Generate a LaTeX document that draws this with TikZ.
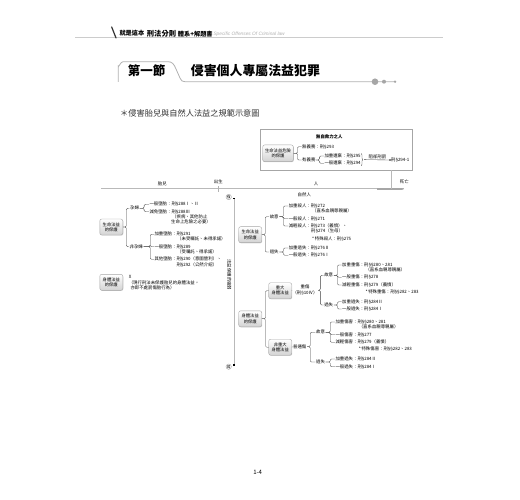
\documentclass[tikz,border=0pt]{standalone}
\usepackage{fontspec}
\setmainfont{Noto Sans CJK TC}
\newfontfamily\latfont{Liberation Sans}
\newcommand\lawsec{{\latfont §}}
\usetikzlibrary{arrows.meta,decorations.pathreplacing,shadows,calc}

\begin{document}
\begin{tikzpicture}[x=1pt, y=-1pt,
    prot/.style={draw=gray!70, rounded corners=2pt, top color=white, bottom color=gray!35, drop shadow={shadow xshift=0.5pt, shadow yshift=-0.6pt, fill=gray!60}, align=center, inner sep=0pt, minimum width=23pt, minimum height=16pt, font=\fontsize{4.3}{5.3}\selectfont},
    law/.style={anchor=west, inner sep=0.3pt, font=\fontsize{4.4}{5}\selectfont},
    tag/.style={inner sep=0.5pt, font=\fontsize{4.4}{5}\selectfont},
    branch/.style={draw=black!75, line width=0.35pt, rounded corners=1.2pt},
    timeline/.style={draw=gray!55, line width=1pt},
]
\useasboundingbox[fill=white] (0,0) rectangle (520,500);

% Header
\draw[gray!40, line width=0.4pt] (75,37.5) -- (443,37.5);
\draw[black!80, line width=1.2pt, line cap=round] (111.7,27) -- (116,38);
\node[anchor=west, inner sep=0, font=\bfseries\fontsize{6.2}{7}\selectfont] (hdra) at (119.3,33.5) {就是這本};
\node[anchor=west, inner sep=0, font=\bfseries\fontsize{7.3}{8}\selectfont] (hdrb) at (146.7,33.3) {刑法分則};
\node[anchor=west, inner sep=0, font=\bfseries\fontsize{6.2}{7}\selectfont] (hdrc) at (177.7,33.8) {體系+解題書};
\node[anchor=west, inner sep=0, text=gray!60, font=\latfont\itshape\fontsize{4.8}{5}\selectfont] (hdrd) at (213.3,34) {Specific Offenses Of Criminal law};

% Section title
\draw[gray!60, line width=0.8pt] (118.3,82) -- (118.3,66) to[out=-90,in=180] (123,61.7) -- (168,61.7)
    .. controls (172,61.7) and (174,64) .. (176,69) -- (180,78) .. controls (181.5,81) .. (185,81.7) -- (395,81.7);
\fill[gray!70] (375,81.7) circle (3.3) (384,81.7) circle (2) (395,81.7) circle (1.3);
\node[font=\bfseries\fontsize{12.5}{13}\selectfont] (sec) at (146.7,71) {第一節};
\node[anchor=west, inner sep=0, font=\bfseries\fontsize{12.9}{14}\selectfont] (ttl) at (190.7,71) {侵害個人專屬法益犯罪};

\node[anchor=west, inner sep=0, text=black!80, font=\fontsize{8.2}{9}\selectfont] (sub) at (120,113.3) {＊侵害胎兒與自然人法益之規範示意圖};

% Helpless persons box
\node[draw=gray!70, line width=0.5pt, minimum width=152.7pt, minimum height=40.7pt, inner sep=0] (helpless) at (336.3,149.7) {};
\node[font=\bfseries\fontsize{4.4}{5}\selectfont] (hlt) at (329.3,136.7) {無自救力之人};
\node[prot, minimum width=30.6pt, minimum height=16.7pt] (danger) at (278,153.3) {生命法益危險\\的保護};
\node[law] (noduty) at (301.7,146.7) {無義務：刑\lawsec293};
\node[law] (duty) at (301.7,160) {有義務};
\node[law] (aba) at (324,156) {加重遺棄：刑\lawsec295};
\node[law] (abb) at (324,163.3) {一般遺棄：刑\lawsec294};
\node[law] (exempt) at (390.7,160) {刑\lawsec294-1};
\draw[branch] (danger.east) -- ++(4,0) |- (noduty.west);
\draw[branch] (danger.east) -- ++(4,0) |- (duty.west);
\draw[branch] (duty.east) -- ++(3.5,0) |- (aba.west);
\draw[branch] (duty.east) -- ++(3.5,0) |- (abb.west);
\draw[black!75, line width=0.35pt, decorate, decoration={brace, amplitude=1.5pt}] (aba.north east) -- (abb.south east);
\draw[branch, -{Square[length=1.4pt]}] ($(aba.north east)!0.5!(abb.south east)+(3,0)$) -- node[above=0.2pt, tag] (bar) {阻卻刑罰} (exempt.west);

% Time line
\coordinate (tstart) at (101,189);
\coordinate (tend) at (404.3,189);
\coordinate (dtick) at (391,189);
\draw[timeline] (tstart) -- (tend);
\draw[gray!70, line width=2pt, -{Latex[length=2.5pt]}] (376.7,189) -- (tend);
\draw[timeline] (helpless.south -| dtick) -- (dtick);
\draw[gray!60, line width=0.6pt] (218,186.5) -- (218,192);
\node[tag] (fetus) at (162.3,183.7) {胎兒};
\node[tag] (birth) at (218.3,182) {出生};
\node[tag] (person) at (316,183.7) {人};
\node[tag] (death) at (404.3,182) {死亡};

% Vertical axis
\coordinate (vtop) at (234,198.3);
\coordinate (vbot) at (234,365);
\draw[timeline] (vtop) -- (vbot);
\node[fill=black, inner sep=0.6pt] (vtopm) at (vtop) {};
\node[fill=black, inner sep=0.6pt] (vbotm) at (vbot) {};
\node[draw=gray!70, circle, inner sep=0.2pt, font=\fontsize{3.6}{4}\selectfont] (strong) at (228.7,197) {強};
\node[draw=gray!70, circle, inner sep=0.2pt, font=\fontsize{3.6}{4}\selectfont] (weak) at (228.7,366.7) {弱};
\node[tag, rotate=-90] (vlab) at (229.3,275) {法益保護的強弱};

% Fetus: life
\node[prot] (flife) at (111.3,227) {生命法益\\的保護};
\node[tag] (preg) at (134.5,208.3) {孕婦};
\node[tag] (npreg) at (136.2,246.7) {非孕婦};
\node[law] (fa) at (149,204.3) {一般墮胎：刑\lawsec288Ⅰ、Ⅱ};
\node[law] (fb) at (149,211.7) {減免墮胎：刑\lawsec288Ⅲ};
\node[law] (fbn) at (171.7,217) {（疾病、其他防止};
\node[law] (fbm) at (170.7,222.3) {生命上危險之必要）};
\node[law] (fc) at (154,234.3) {加重墮胎：刑\lawsec291};
\node[law] (fcn) at (176.7,239) {（未受囑託、未得承諾）};
\node[law] (fd) at (154,246.7) {一般墮胎：刑\lawsec289};
\node[law] (fdn) at (176.7,252) {（受囑託、得承諾）};
\node[law] (fe) at (154,259.3) {其他墮胎：刑\lawsec290（意圖營利）、};
\node[law] (fen) at (176,265) {刑\lawsec292（公然介紹）};
\draw[branch] (flife.east) -- ++(3.3,0) |- (preg.west);
\draw[branch] (flife.east) -- ++(3.3,0) |- (npreg.west);
\foreach \c in {fa,fb} \draw[branch] (preg.east) -- ++(4.5,0) |- (\c.west);
\foreach \c in {fc,fd,fe} \draw[branch] (npreg.east) -- ++(6.7,0) |- (\c.west);

% Fetus: body
\node[prot] (fbody) at (111.3,282.3) {身體法益\\的保護};
\node[law] (none) at (128.3,276.7) {X};
\node[law] (nonen) at (128.3,282.7) {（現行刑法未保護胎兒的身體法益，};
\node[law] (nonem) at (130,288) {亦即不處罰傷胎行為）};

% Person: life
\node[tag] (nat) at (304.3,195.3) {自然人};
\node[prot] (plife) at (250.2,234.7) {生命法益\\的保護};
\node[tag] (kint) at (274.2,216.7) {故意};
\node[tag] (kneg) at (274.2,252) {過失};
\node[law] (ka) at (288.3,206) {加重殺人：刑\lawsec272};
\node[law] (kan) at (311.7,211) {（直系血親尊親屬）};
\node[law] (kb) at (288.3,218.7) {一般殺人：刑\lawsec271};
\node[law] (kc) at (288.3,226) {減輕殺人：刑\lawsec273（義憤）、};
\node[law] (kcn) at (310.7,231.3) {刑\lawsec274（生母）};
\node[law] (kd) at (311.7,238.7) {*\,特殊殺人：刑\lawsec275};
\node[law] (na) at (288.3,248) {加重過失：刑\lawsec276Ⅱ};
\node[law] (nb) at (288.3,255.3) {一般過失：刑\lawsec276Ⅰ};
\draw[branch] (plife.east) -- ++(3.3,0) |- (kint.west);
\draw[branch] (plife.east) -- ++(3.3,0) |- (kneg.west);
\foreach \c in {ka,kb,kc} \draw[branch] (kint.east) -- ++(4.2,0) |- (\c.west);
\foreach \c in {na,nb} \draw[branch] (kneg.east) -- ++(4.2,0) |- (\c.west);

% Person: body
\node[prot] (pbody) at (250.2,318.8) {身體法益\\的保護};
\node[prot] (serious) at (280.2,290.7) {重大\\身體法益};
\node[prot] (minor) at (280.2,347.2) {非重大\\身體法益};
\draw[branch] (pbody.east) -- ++(3.6,0) |- (serious.west);
\draw[branch] (pbody.east) -- ++(3.6,0) |- (minor.west);

\node[tag, align=center, font=\fontsize{4.4}{6}\selectfont] (grav) at (305,290.3) {重傷\\（刑\lawsec10Ⅳ）};
\node[tag] (sint) at (328.7,275.3) {故意};
\node[tag] (sneg) at (328.7,305) {過失};
\node[law] (sa) at (341.7,265) {加重重傷：刑\lawsec\lawsec280、281};
\node[law] (san) at (365,270) {（直系血親尊親屬）};
\node[law] (sb) at (341.7,277.3) {一般重傷：刑\lawsec278};
\node[law] (sc) at (341.7,285) {減輕重傷：刑\lawsec279（義憤）};
\node[law] (sd) at (365,292.3) {*\,特殊重傷：刑\lawsec\lawsec282、283};
\node[law] (se) at (341.7,301.7) {加重過失：刑\lawsec284Ⅱ};
\node[law] (sf) at (341.7,309) {一般過失：刑\lawsec284Ⅰ};
\draw[branch] (serious.east) -- (grav.west);
\draw[branch] (grav.east) -- ++(2.2,0) |- (sint.west);
\draw[branch] (grav.east) -- ++(2.2,0) |- (sneg.west);
\foreach \c in {sa,sb,sc} \draw[branch] (sint.east) -- ++(3.7,0) |- (\c.west);
\foreach \c in {se,sf} \draw[branch] (sneg.east) -- ++(3.7,0) |- (\c.west);

\node[tag] (ord) at (299.7,346.7) {普通傷};
\node[tag] (mint) at (320.5,332.3) {故意};
\node[tag] (mneg) at (320.5,362) {過失};
\node[law] (ma) at (335,322) {加重傷害：刑\lawsec\lawsec280、281};
\node[law] (man) at (358.3,327.3) {（直系血親尊親屬）};
\node[law] (mb) at (335,334.7) {一般傷害：刑\lawsec277};
\node[law] (mc) at (335,342.3) {減輕傷害：刑\lawsec279（義憤）};
\node[law] (md) at (358.3,349.3) {*\,特殊傷害：刑\lawsec\lawsec282、283};
\node[law] (me) at (335,359) {加重過失：刑\lawsec284Ⅱ};
\node[law] (mf) at (335,366.7) {一般過失：刑\lawsec284Ⅰ};
\draw[branch] (minor.east) -- (ord.west);
\draw[branch] (ord.east) -- ++(3.2,0) |- (mint.west);
\draw[branch] (ord.east) -- ++(3.2,0) |- (mneg.west);
\foreach \c in {ma,mb,mc} \draw[branch] (mint.east) -- ++(4.6,0) |- (\c.west);
\foreach \c in {me,mf} \draw[branch] (mneg.east) -- ++(4.6,0) |- (\c.west);

% Page number
\node[font=\fontsize{6}{7}\selectfont, inner sep=0] (pg) at (257.7,472.7) {1-4};

\end{tikzpicture}
\end{document}
